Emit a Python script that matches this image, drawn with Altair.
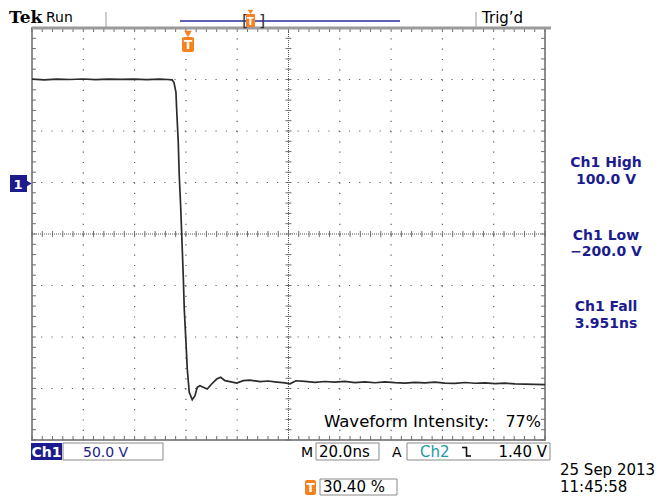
import altair as alt
import pandas as pd

# ---------------- data ----------------
# time in ns relative to trigger, voltage in V (Ch1, 50 V/div, 20 ns/div)
t_ns = [-60.8, -56.0, -51.0, -46.0, -41.0, -36.0, -31.0, -26.0, -21.0, -16.0, -11.0, -8.0, -6.2,
        -5.46, -4.68, -4.41, -3.78, -3.39, -2.85, -2.46, -1.83, -1.44, -0.90, -0.27, 0.51,
        1.68, 2.73, 3.63, 4.68, 5.97, 7.52, 9.24, 11.19, 12.75, 14.43, 16.38, 18.99, 21.56,
        24.17, 28.07, 31.31, 33.9, 37.8, 39.8, 42.1, 45.6, 49.5, 53.4, 57.3, 61.2, 65.1, 69.0,
        72.9, 76.8, 80.7, 84.6, 88.5, 92.4, 96.3, 100.2, 104.1, 108.0, 111.9, 115.8, 119.7,
        123.6, 127.5, 131.4, 135.3, 139.2]
v_volt = [100.3, 99.7, 100.4, 100.0, 100.5, 99.8, 100.3, 100.1, 100.4, 99.8, 100.3, 100.0, 99.6,
          97.3, 87.6, 71.4, 39.0, 6.6, -22.5, -48.4, -90.5, -122.8, -148.7, -181.1, -203.7,
          -210.9, -207.0, -198.8, -197.3, -198.8, -200.5, -195.6, -190.8, -189.1, -192.4, -193.4,
          -194.7, -192.4, -191.8, -193.4, -192.7, -193.5, -194.5, -195.5, -192.5, -193.0, -194.0,
          -193.2, -193.8, -193.0, -194.2, -193.6, -194.4, -193.5, -194.3, -194.8, -194.0, -194.6,
          -193.9, -194.7, -195.0, -194.2, -194.9, -194.5, -195.3, -194.8, -195.5, -195.8, -196.0,
          -196.2]

t_domain = [-60.8, 139.2]     # 10 div x 20 ns, trigger at 30.40 %
v_domain = [-250, 150]        # 8 div x 50 V, ground 1 div above centre
div_t = [-60.8 + 20 * k for k in range(11)]
div_v = [-250 + 50 * k for k in range(9)]
centre_t = 39.2
centre_v = -50

meas_labels = ["Ch1 High", "100.0 V", "Ch1 Low", "\u2212200.0 V", "Ch1 Fall", "3.951ns"]

# ---------------- layout ----------------
W, H = 513, 412            # graticule size
OX, OY = 32, 28            # graticule origin on the page
TOTAL_W, TOTAL_H = 650, 488
FONT = "DejaVu Sans"
NAVY = "#1c1c8e"
ORANGE = "#f5821f"
TEAL = "#1b9aa3"
GRAY = "#8a8a8a"

xs = alt.Scale(domain=t_domain, nice=False, zero=False)
ys = alt.Scale(domain=v_domain, nice=False, zero=False)

one = pd.DataFrame({"s": [0]})


def txt(s, X, Y, size=13, color="black", align="left", weight="normal", font=FONT):
    return alt.Chart(pd.DataFrame({"s": [s]})).mark_text(
        align=align, baseline="alphabetic", fontSize=size, color=color,
        fontWeight=weight, font=font
    ).encode(x=alt.value(X - OX), y=alt.value(Y - OY), text="s:N")


def box(X1, X2, Y1, Y2, fill, stroke=None, sw=1, radius=0):
    kw = dict(fill=fill, cornerRadius=radius)
    if stroke:
        kw.update(stroke=stroke, strokeWidth=sw)
    else:
        kw.update(strokeWidth=0)
    return alt.Chart(one).mark_rect(**kw).encode(
        x=alt.value(X1 - OX), x2=alt.value(X2 - OX),
        y=alt.value(Y1 - OY), y2=alt.value(Y2 - OY))


def hline(X1, X2, Y, color, sw=1):
    return alt.Chart(one).mark_rule(color=color, strokeWidth=sw).encode(
        x=alt.value(X1 - OX), x2=alt.value(X2 - OX), y=alt.value(Y - OY))


def vline(X, Y1, Y2, color, sw=1):
    return alt.Chart(one).mark_rule(color=color, strokeWidth=sw).encode(
        x=alt.value(X - OX), y=alt.value(Y1 - OY), y2=alt.value(Y2 - OY))


def tri(X, Y, shape, color, size):
    return alt.Chart(one).mark_point(shape=shape, filled=True, color=color, size=size, opacity=1).encode(
        x=alt.value(X - OX), y=alt.value(Y - OY))


# dotted graticule (dot every 0.2 div)
grid_t = [d for d in div_t[1:-1] if abs(d - centre_t) > 1e-6]
grid_v = [d for d in div_v[1:-1] if d != centre_v]
dot_col = "#5e5e5e"
grid = [
    alt.Chart(pd.DataFrame({"t": grid_t})).mark_rule(color=dot_col, strokeWidth=1.2, strokeDash=[1.2, 9.1]).encode(
        x=alt.X("t:Q", scale=xs, axis=None)),
    alt.Chart(pd.DataFrame({"v": grid_v})).mark_rule(color=dot_col, strokeWidth=1.2, strokeDash=[1.2, 9.06]).encode(
        y=alt.Y("v:Q", scale=ys, axis=None)),
]

# minor ticks (every 0.2 div)
mt = pd.DataFrame({"t": [-60.8 + 4 * i for i in range(51)]})
mv = pd.DataFrame({"v": [-250 + 10 * i for i in range(41)]})
cy = H / 2
cx = W / 2
tick_col = "#6e6e6e"
ticks = [
    alt.Chart(mt).mark_rule(color=tick_col).encode(x=alt.X("t:Q", scale=xs, axis=None), y=alt.value(0), y2=alt.value(4)),
    alt.Chart(mt).mark_rule(color=tick_col).encode(x=alt.X("t:Q", scale=xs, axis=None), y=alt.value(H), y2=alt.value(H - 4)),
    alt.Chart(mt).mark_rule(color=tick_col).encode(x=alt.X("t:Q", scale=xs, axis=None), y=alt.value(cy - 3), y2=alt.value(cy + 3)),
    alt.Chart(mv).mark_rule(color=tick_col).encode(y=alt.Y("v:Q", scale=ys, axis=None), x=alt.value(0), x2=alt.value(4)),
    alt.Chart(mv).mark_rule(color=tick_col).encode(y=alt.Y("v:Q", scale=ys, axis=None), x=alt.value(W), x2=alt.value(W - 4)),
    alt.Chart(mv).mark_rule(color=tick_col).encode(y=alt.Y("v:Q", scale=ys, axis=None), x=alt.value(cx - 3), x2=alt.value(cx + 3)),
]
centre = [
    alt.Chart(pd.DataFrame({"v": [centre_v]})).mark_rule(color="#555", strokeDash=[1, 1]).encode(
        y=alt.Y("v:Q", scale=ys, axis=None)),
    alt.Chart(pd.DataFrame({"t": [centre_t]})).mark_rule(color="#555", strokeDash=[1, 1]).encode(
        x=alt.X("t:Q", scale=xs, axis=None)),
]

# waveform
wave_df = pd.DataFrame({"t": t_ns, "v": v_volt})
wave = alt.Chart(wave_df).mark_line(color="#2b2b2b", strokeWidth=1.7).encode(
    x=alt.X("t:Q", scale=xs, axis=None),
    y=alt.Y("v:Q", scale=ys, axis=None),
)

layers = grid + centre + ticks + [wave]

# top status strip
layers += [
    hline(OX, 551, 28, "#9a9a9a", 3),
    vline(106, 12, 28, "#9a9a9a", 1),
    vline(476, 12, 28, "#9a9a9a", 1),
    txt("Tek", 9, 23, size=17, weight="bold", font="DejaVu Serif"),
    txt("Run", 46, 22, size=14, font=FONT),
    txt("Trig\u2019d", 482, 23, size=15),
    hline(180, 400, 21, "#2a2a9a", 1.3),
    txt("[", 242, 26, size=16, color="#333"),
    txt("]", 259, 26, size=16, color="#333"),
    box(246, 255, 14, 27, ORANGE, radius=1),
    tri(250.5, 12, "triangle-down", ORANGE, 30),
    txt("T", 250.5, 25, size=10, color="white", align="center", weight="bold"),
]

# trigger position marker under top edge
layers += [
    tri(188, 34, "triangle-down", ORANGE, 60),
    box(182, 194, 37, 52, ORANGE, radius=2),
    txt("T", 188, 49, size=12, color="white", align="center", weight="bold"),
]

# channel 1 ground marker
layers += [
    box(10, 27, 175, 192, NAVY),
    tri(28, 183.5, "triangle-right", NAVY, 70),
    txt("1", 18, 189, size=13, color="white", align="center", weight="bold"),
]

# right measurement readouts
meas_y = [167, 184, 240, 256, 311, 328]
for lab, yy in zip(meas_labels, meas_y):
    layers.append(txt(lab, 606, yy, size=14, color=NAVY, align="center", weight="bold"))

# waveform intensity
layers += [
    txt("Waveform Intensity:", 324, 427, size=16.5),
    txt("77%", 541, 427, size=16, align="right"),
]

# bottom readouts
layers += [
    box(31, 62, 443, 460, NAVY),
    txt("Ch1", 46.5, 457, size=14, color="white", align="center", weight="bold"),
    box(63, 163, 443, 460, "white", stroke=GRAY),
    txt("50.0 V", 83, 457, size=14, color=NAVY),
    txt("M", 301, 457, size=14),
    box(316, 379, 443, 460, "white", stroke=GRAY),
    txt("20.0ns", 319, 457, size=15),
    txt("A", 392, 457, size=14),
    box(407, 550, 443, 460, "white", stroke=GRAY),
    txt("Ch2", 420, 457, size=15, color=TEAL),
    hline(462, 467, 447.5, "#111", 1.6),
    vline(466.5, 447, 456.5, "#111", 1.6),
    hline(466, 471, 456, "#111", 1.6),
    txt("1.40 V", 547, 457, size=15, align="right"),
    box(305, 316, 480, 495, ORANGE, radius=2),
    txt("T", 310.5, 492, size=12, color="white", align="center", weight="bold"),
    box(320, 397, 479, 495, "white", stroke=GRAY),
    txt("30.40 %", 323, 492, size=15),
    txt("25 Sep  2013", 560, 475, size=15),
    txt("11:45:58", 560, 492, size=15),
]

chart = alt.layer(*layers).properties(
    width=W, height=H,
    padding={"left": OX - 8, "top": OY - 8,
             "right": TOTAL_W - (OX - 8) - W, "bottom": TOTAL_H - (OY - 8) - H},
    autosize=alt.AutoSizeParams(type="none"),
    background="white",
).configure_view(stroke="#8c8c8c", strokeWidth=2)

chart.save("out.html", embed_options={"renderer": "svg", "actions": False})
